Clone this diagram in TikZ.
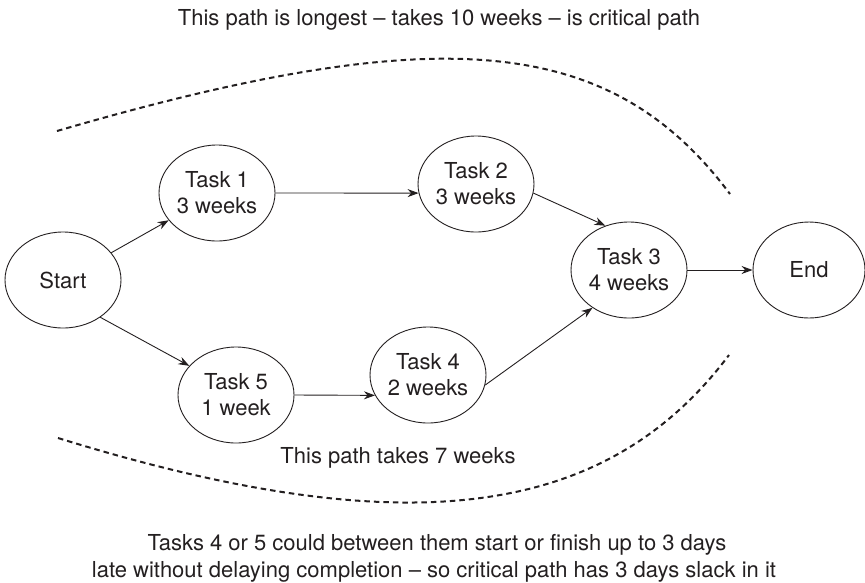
\documentclass[tikz,border=0pt]{standalone}
\usepackage{fontspec}
\setmainfont{TeX Gyre Heros}
\usetikzlibrary{shapes.geometric,arrows.meta}
\definecolor{ink}{RGB}{35,31,32}
\begin{document}
\begin{tikzpicture}[x=1pt,y=-1pt,
  task/.style={ellipse,draw=ink,line width=0.9pt,minimum width=116pt,minimum height=96pt,inner sep=0pt,align=center,font=\fontsize{22}{26}\selectfont,text=ink},
  link/.style={draw=ink,line width=0.9pt,-{Stealth[length=11pt,width=8pt]}},
  bound/.style={draw=ink,line width=2pt,dash pattern=on 5.5pt off 4pt},
  note/.style={font=\fontsize{22}{27}\selectfont,text=ink,inner sep=0pt,anchor=base}
]
\useasboundingbox (0,0) rectangle (865,582);

\node[note] (top) at (439,25) {This path is longest -- takes 10 weeks -- is critical path};

\node[task] (s) at (63,280) {Start};
\node[task] (t1) at (217,193) {Task 1\\3 weeks};
\node[task] (t2) at (476,184) {Task 2\\3 weeks};
\node[task] (t3) at (629,270) {Task 3\\4 weeks};
\node[task,minimum width=112pt] (e) at (809,270) {End};
\node[task] (t5) at (236,395) {Task 5\\1 week};
\node[task] (t4) at (428,375) {Task 4\\2 weeks};

\draw[link] (s) -- (t1);
\draw[link] (s.315) -- (t5.148);
\draw[link] (t1.east) -- (t2.189);
\draw[link] (t2.351) -- (t3.118);
\draw[link] (t5.east) -- (t4.201);
\draw[link] (t4.350) -- (t3.226);
\draw[link] (t3) -- (e);

\draw[bound] (57,131) .. controls (442,19) and (611,35) .. (730,194);
\draw[bound] (58,438) .. controls (404,545) and (605,520) .. (729,355);

\node[note] (mid) at (398,463) {This path takes 7 weeks};
\node[note] (b1) at (437,550) {Tasks 4 or 5 could between them start or finish up to 3 days};
\node[note] (b2) at (434,577) {late without delaying completion -- so critical path has 3 days slack in it};
\end{tikzpicture}
\end{document}
